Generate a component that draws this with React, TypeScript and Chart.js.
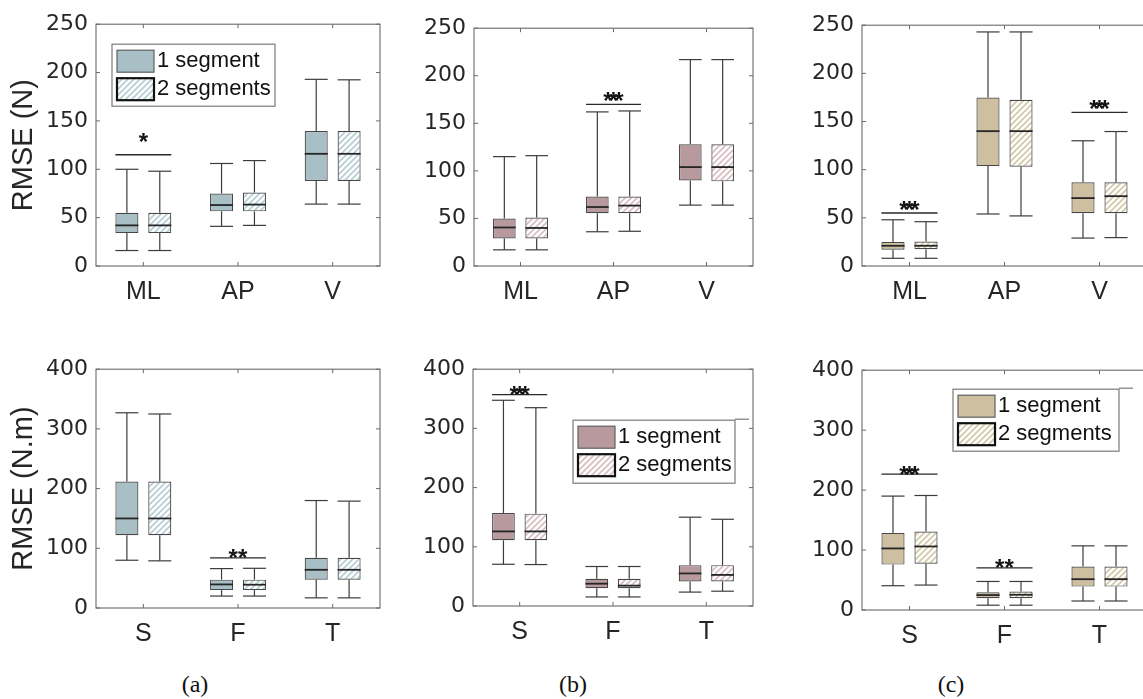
import React, { useEffect, useRef } from "react";
import { Chart, registerables } from "chart.js";
Chart.register(...registerables);

// ---------- data ----------
const topCategories = ["ML", "AP", "V"];
const bottomCategories = ["S", "F", "T"];
const forceTicks = [0, 50, 100, 150, 200, 250];
const momentTicks = [0, 100, 200, 300, 400];
const seriesNames = ["1 segment", "2 segments"];
const captions = ["(a)", "(b)", "(c)"];

// [min, q1, median, q3, max] per category
const aForce1 = [[16, 34, 42, 55, 100], [41, 56.5, 63, 75, 106], [64, 88, 116, 139.5, 193]];
const aForce2 = [[16, 34, 42, 55, 98], [42, 56.5, 63.5, 76, 109], [64, 88, 116, 139.5, 192.5]];
const bForce1 = [[17, 29, 40.5, 50, 115], [36, 55.5, 62, 73, 162], [64, 90, 104, 128, 217]];
const bForce2 = [[17, 29, 40, 51, 116], [36.5, 55.5, 63.5, 73, 163], [64, 89, 104, 128, 217]];
const cForce1 = [[8, 17, 21, 25, 48], [54, 103.7, 140, 175, 243], [29, 54.7, 70.5, 87, 130]];
const cForce2 = [[8, 17.5, 21, 25.5, 46], [52, 103, 140, 172.5, 243], [29.5, 54.7, 72.5, 87, 139.6]];
const aMoment1 = [[80, 122, 150, 212, 327], [20, 30, 39.5, 47.5, 66], [17, 47.5, 64, 84, 180]];
const aMoment2 = [[79, 122, 150, 212, 325], [20, 30, 39, 47.5, 66.5], [17, 47.5, 64, 84, 179]];
const bMoment1 = [[70.5, 111, 126, 157, 347.5], [15.3, 30, 37.7, 46, 66.7], [23.5, 41.5, 55, 69, 150]];
const bMoment2 = [[70, 111, 126, 156, 335], [15.3, 30, 34.4, 46, 66.7], [25, 41.5, 52.5, 69, 146.5]];
const cMoment1 = [[40.5, 75.7, 102.7, 128.6, 190], [8, 19.5, 24.9, 29.7, 47.6], [15, 39, 51.4, 72.4, 107]];
const cMoment2 = [[41.6, 77.3, 106, 131, 191], [8, 19.5, 25.4, 30.8, 47.6], [15, 39, 51.4, 72.4, 107]];

// significance: bar value, label, label value (per category)
const aForceSigLine = [115, null, null];
const aForceSigText = ["*", "", ""];
const aForceSigTextY = [134, null, null];
const bForceSigLine = [null, 170, null];
const bForceSigText = ["", "***", ""];
const bForceSigTextY = [null, 180, null];
const cForceSigLine = [55, null, 159.4];
const cForceSigText = ["***", "", "***"];
const cForceSigTextY = [64, null, 169];
const aMomentSigLine = [null, 84, null];
const aMomentSigText = ["", "**", ""];
const aMomentSigTextY = [null, 93.5, null];
const bMomentSigLine = [357, null, null];
const bMomentSigText = ["***", "", ""];
const bMomentSigTextY = [367, null, null];
const cMomentSigLine = [226.5, 70.3, null];
const cMomentSigText = ["***", "**", ""];
const cMomentSigTextY = [236, 80, null];

// ---------- styles ----------
const FILL_A = "#A8BFC6";
const HATCH_A = "#B9CFD5";
const FILL_B = "#B89A9E";
const HATCH_B = "#D9BFC3";
const FILL_C = "#CDBF9F";
const HATCH_C = "#D3CAAB";
const EDGE = "#474747";
const AXIS = "#6a6a6a";
const TEXT = "#262626";

type Panel = {
  id: string;
  cats: string[];
  ticks: number[];
  s1: number[][];
  s2: number[][];
  sigLine: (number | null)[];
  sigText: string[];
  sigTextY: (number | null)[];
  title?: string;
  L: number; T: number; R: number; B: number;
  fill: string; hatch: string;
  legend?: { x: number; y: number; w: number; h: number; ext: number };
};

const PANELS: Panel[] = [
  { id: "aTop", cats: topCategories, ticks: forceTicks, s1: aForce1, s2: aForce2, sigLine: aForceSigLine, sigText: aForceSigText, sigTextY: aForceSigTextY, title: "RMSE (N)", L: 96, T: 17, R: 380, B: 266, fill: FILL_A, hatch: HATCH_A, legend: { x: 16, y: 20, w: 163, h: 62, ext: 0 } },
  { id: "bTop", cats: topCategories, ticks: forceTicks, s1: bForce1, s2: bForce2, sigLine: bForceSigLine, sigText: bForceSigText, sigTextY: bForceSigTextY, L: 474, T: 21, R: 753, B: 266, fill: FILL_B, hatch: HATCH_B },
  { id: "cTop", cats: topCategories, ticks: forceTicks, s1: cForce1, s2: cForce2, sigLine: cForceSigLine, sigText: cForceSigText, sigTextY: cForceSigTextY, L: 862, T: 18, R: 1147, B: 266, fill: FILL_C, hatch: HATCH_C },
  { id: "aBot", cats: bottomCategories, ticks: momentTicks, s1: aMoment1, s2: aMoment2, sigLine: aMomentSigLine, sigText: aMomentSigText, sigTextY: aMomentSigTextY, title: "RMSE (N.m)", L: 96, T: 362, R: 380, B: 608, fill: FILL_A, hatch: HATCH_A },
  { id: "bBot", cats: bottomCategories, ticks: momentTicks, s1: bMoment1, s2: bMoment2, sigLine: bMomentSigLine, sigText: bMomentSigText, sigTextY: bMomentSigTextY, L: 473, T: 362, R: 753, B: 606, fill: FILL_B, hatch: HATCH_B, legend: { x: 100, y: 51, w: 162, h: 63, ext: 14 } },
  { id: "cBot", cats: bottomCategories, ticks: momentTicks, s1: cMoment1, s2: cMoment2, sigLine: cMomentSigLine, sigText: cMomentSigText, sigTextY: cMomentSigTextY, L: 862, T: 363, R: 1147, B: 610, fill: FILL_C, hatch: HATCH_C, legend: { x: 91, y: 19, w: 166, h: 62, ext: 14 } },
];

const PAD_TOP = 14;
const PAD_RIGHT = 6;
const X_AX_H = 52;

function makeHatch(lineColor: string): CanvasPattern | string {
  const s = 6;
  const c = document.createElement("canvas");
  c.width = s;
  c.height = s;
  const g = c.getContext("2d");
  if (!g) return "#fff";
  g.fillStyle = "#ffffff";
  g.fillRect(0, 0, s, s);
  g.strokeStyle = lineColor;
  g.lineWidth = 1.8;
  g.beginPath();
  g.moveTo(-1, s + 1);
  g.lineTo(s + 1, -1);
  g.moveTo(-1, 1);
  g.lineTo(1, -1);
  g.moveTo(s - 1, s + 1);
  g.lineTo(s + 1, s - 1);
  g.stroke();
  return g.createPattern(c, "repeat") || "#fff";
}

const boxPlugin = {
  id: "boxExtras",
  afterDatasetsDraw(chart: any, _args: any, opts: any) {
    const p: Panel = opts.panel;
    const hatch = opts.hatchPattern;
    const { ctx, chartArea } = chart;
    const ys = chart.scales.y;
    const xs = chart.scales.x;
    const py = (v: number) => ys.getPixelForValue(v);
    const line = (x1: number, y1: number, x2: number, y2: number) => {
      ctx.beginPath();
      ctx.moveTo(x1, y1);
      ctx.lineTo(x2, y2);
      ctx.stroke();
    };
    ctx.save();
    const series = [p.s1, p.s2];
    const edges: { l: number; r: number }[] = [];
    series.forEach((stats, di) => {
      const meta = chart.getDatasetMeta(di);
      meta.data.forEach((el: any, j: number) => {
        const [mn, q1, md, q3, mx] = stats[j];
        const { x, width } = el.getProps(["x", "width"], true);
        const h = width / 2;
        if (di === 0) edges[j] = { l: x - h, r: x + h };
        else edges[j].r = x + h;
        ctx.strokeStyle = "#3c3c3c";
        ctx.lineWidth = 1.2;
        line(x, py(q3), x, py(mx));
        line(x, py(q1), x, py(mn));
        line(x - h, py(mx), x + h, py(mx));
        line(x - h, py(mn), x + h, py(mn));
        ctx.strokeStyle = "#262626";
        ctx.lineWidth = 1.8;
        line(x - h, py(md), x + h, py(md));
      });
    });
    // significance
    p.sigLine.forEach((v, j) => {
      if (v === null || v === undefined) return;
      const e = edges[j];
      ctx.strokeStyle = "#2a2a2a";
      ctx.lineWidth = 1.3;
      line(e.l, py(v), e.r, py(v));
      const txt = p.sigText[j];
      const ty = p.sigTextY[j] as number;
      const cx = xs.getPixelForValue(j);
      const n = txt.length;
      const sp = n >= 3 ? 5.5 : 9.5;
      ctx.fillStyle = "#151515";
      ctx.font = "bold 24px 'Liberation Sans', Arial, sans-serif";
      ctx.textAlign = "center";
      ctx.textBaseline = "alphabetic";
      for (let k = 0; k < n; k++) {
        const ox = (k - (n - 1) / 2) * sp;
        ctx.fillText(txt[k], cx + ox, py(ty) + 14);
      }
    });
    // axes frame + inward ticks
    const { left, right, top, bottom } = chartArea;
    ctx.strokeStyle = AXIS;
    ctx.lineWidth = 1.1;
    ctx.strokeRect(left, top, right - left, bottom - top);
    ctx.lineWidth = 1;
    p.ticks.forEach((t) => {
      const yy = py(t);
      line(left, yy, left + 4, yy);
      line(right, yy, right - 4, yy);
    });
    p.cats.forEach((_c, j) => {
      const xx = xs.getPixelForValue(j);
      line(xx, bottom, xx, bottom - 4);
      line(xx, top, xx, top + 4);
    });
    // legend
    if (p.legend) {
      const lg = p.legend;
      const fx = left + lg.x;
      const fy = top + lg.y;
      ctx.fillStyle = "#ffffff";
      ctx.fillRect(fx, fy, lg.w, lg.h);
      ctx.strokeStyle = "#7a7a7a";
      ctx.lineWidth = 1.2;
      ctx.strokeRect(fx, fy, lg.w, lg.h);
      if (lg.ext > 0) line(fx + lg.w, fy - 1, fx + lg.w + lg.ext, fy - 1);
      // patch 1
      ctx.fillStyle = p.fill;
      ctx.fillRect(fx + 5, fy + 6, 37, 22);
      ctx.strokeStyle = "#606060";
      ctx.lineWidth = 1.2;
      ctx.strokeRect(fx + 5, fy + 6, 37, 22);
      // patch 2
      ctx.fillStyle = hatch;
      ctx.fillRect(fx + 5, fy + 34, 37, 22);
      ctx.strokeStyle = "#111111";
      ctx.lineWidth = 2.2;
      ctx.strokeRect(fx + 5, fy + 34, 37, 22);
      ctx.fillStyle = "#111111";
      ctx.font = "22px 'Liberation Sans', Arial, sans-serif";
      ctx.textAlign = "left";
      ctx.textBaseline = "middle";
      ctx.fillText(seriesNames[0], fx + 45, fy + 17);
      ctx.fillText(seriesNames[1], fx + 45, fy + 45);
    }
    ctx.restore();
  },
};

function PanelChart({ p }: { p: Panel }) {
  const ref = useRef<HTMLCanvasElement | null>(null);
  const yAxW = p.L < 200 ? 96 : 90;
  const cLeft = p.L - yAxW;
  const cTop = p.T - PAD_TOP;
  const cW = p.R - cLeft + PAD_RIGHT;
  const cH = p.B + X_AX_H - cTop;

  useEffect(() => {
    if (!ref.current) return;
    const hatchPattern = makeHatch(p.hatch);
    const chart = new Chart(ref.current, {
      type: "bar",
      data: {
        labels: p.cats,
        datasets: [
          {
            label: seriesNames[0],
            data: p.s1.map((s) => [s[1], s[3]]),
            backgroundColor: p.fill,
            borderColor: EDGE,
            borderWidth: 1.2,
            borderSkipped: false,
            barPercentage: 0.7,
            categoryPercentage: 0.695,
          },
          {
            label: seriesNames[1],
            data: p.s2.map((s) => [s[1], s[3]]),
            backgroundColor: hatchPattern as any,
            borderColor: EDGE,
            borderWidth: 1.2,
            borderSkipped: false,
            barPercentage: 0.7,
            categoryPercentage: 0.695,
          },
        ],
      } as any,
      options: {
        animation: false,
        responsive: false,
        devicePixelRatio: 1,
        layout: { padding: { top: PAD_TOP, right: PAD_RIGHT, left: 0, bottom: 0 } },
        plugins: {
          legend: { display: false },
          tooltip: { enabled: false },
          boxExtras: { panel: p, hatchPattern },
        } as any,
        scales: {
          x: {
            offset: true,
            grid: { display: false, drawTicks: false },
            border: { display: false },
            ticks: {
              color: TEXT,
              padding: 11,
              font: { family: "'Liberation Sans', Arial, sans-serif", size: 25 },
            },
            afterFit: (s: any) => {
              s.height = X_AX_H;
            },
          },
          y: {
            min: p.ticks[0],
            max: p.ticks[p.ticks.length - 1],
            grid: { display: false, drawTicks: false },
            border: { display: false },
            afterBuildTicks: (s: any) => {
              s.ticks = p.ticks.map((v) => ({ value: v }));
            },
            ticks: {
              color: TEXT,
              padding: 8,
              font: { family: "'DejaVu Sans', sans-serif", size: 22 },
            },
            title: {
              display: !!p.title,
              text: p.title || "",
              color: TEXT,
              font: { family: "'Liberation Sans', Arial, sans-serif", size: 29 },
              padding: { top: 7, bottom: 0 },
            },
            afterFit: (s: any) => {
              s.width = yAxW;
            },
          },
        },
      } as any,
      plugins: [boxPlugin as any],
    });
    return () => chart.destroy();
  }, []);

  return (
    <canvas
      ref={ref}
      width={cW}
      height={cH}
      style={{ position: "absolute", left: cLeft, top: cTop, width: cW, height: cH }}
    />
  );
}

export default function App() {
  const capX = [195, 573, 951];
  return (
    <div
      style={{
        position: "fixed",
        left: 0,
        top: 0,
        width: 1143,
        height: 699,
        overflow: "hidden",
        background: "#ffffff",
      }}
    >
      {PANELS.map((p) => (
        <PanelChart key={p.id} p={p} />
      ))}
      {captions.map((c, i) => (
        <div
          key={c}
          style={{
            position: "absolute",
            left: capX[i],
            top: 684,
            transform: "translate(-50%, -50%)",
            fontFamily: "'Liberation Serif', 'DejaVu Serif', serif",
            fontSize: 24,
            color: "#111",
            whiteSpace: "nowrap",
          }}
        >
          {c}
        </div>
      ))}
    </div>
  );
}
